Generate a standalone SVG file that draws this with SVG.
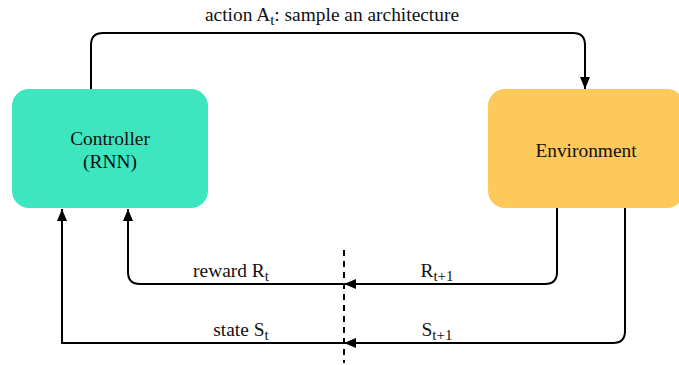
<svg xmlns="http://www.w3.org/2000/svg" width="679" height="365" viewBox="0 0 679 365">
<defs>
<marker id="ah" markerWidth="12" markerHeight="10" refX="12" refY="5" orient="auto" markerUnits="userSpaceOnUse">
<path d="M0,0 L12,5 L0,10 Z" fill="#000"/>
</marker>
<style>
.lbl{font-family:'Liberation Serif','DejaVu Serif',serif;font-size:19.4px;fill:#111;}
.conn{fill:none;stroke:#000;stroke-width:2;}
.sub{font-size:15px;}
</style>
</defs>
<rect width="679" height="365" fill="#fff"/>
<g id="controller">
<rect x="12" y="89" width="196" height="119" rx="17" fill="#3EE6BF"/>
<text class="lbl" x="110" y="145" text-anchor="middle">Controller</text>
<text class="lbl" x="110" y="168" text-anchor="middle">(RNN)</text>
</g>
<g id="environment">
<rect x="488" y="89" width="196" height="119" rx="17" fill="#FDC95A"/>
<text class="lbl" x="586" y="157" text-anchor="middle">Environment</text>
</g>
<g id="connectors">
<path class="conn" d="M91,89 V45 Q91,33 103,33 H573 Q585,33 585,45 V89" marker-end="url(#ah)"/>
<path class="conn" d="M557,208 V272 Q557,284 545,284 H344" marker-end="url(#ah)"/>
<path class="conn" d="M344,284 H140 Q128,284 128,272 V209" marker-end="url(#ah)"/>
<path class="conn" d="M625,208 V331 Q625,343 613,343 H344" marker-end="url(#ah)"/>
<path class="conn" d="M344,343 H62 V209" marker-end="url(#ah)"/>
<line x1="344" y1="250" x2="344" y2="363" stroke="#000" stroke-width="2" stroke-dasharray="6,5"/>
</g>
<g id="labels">
<text class="lbl" x="332" y="21" text-anchor="middle">action A<tspan class="sub" dy="4">t</tspan><tspan dy="-4">: sample an architecture</tspan></text>
<text class="lbl" x="231" y="277" text-anchor="middle">reward R<tspan class="sub" dy="4">t</tspan></text>
<text class="lbl" x="437" y="277" text-anchor="middle">R<tspan class="sub" dy="4">t+1</tspan></text>
<text class="lbl" x="241" y="336" text-anchor="middle">state S<tspan class="sub" dy="4">t</tspan></text>
<text class="lbl" x="437" y="336" text-anchor="middle">S<tspan class="sub" dy="4">t+1</tspan></text>
</g>
</svg>
